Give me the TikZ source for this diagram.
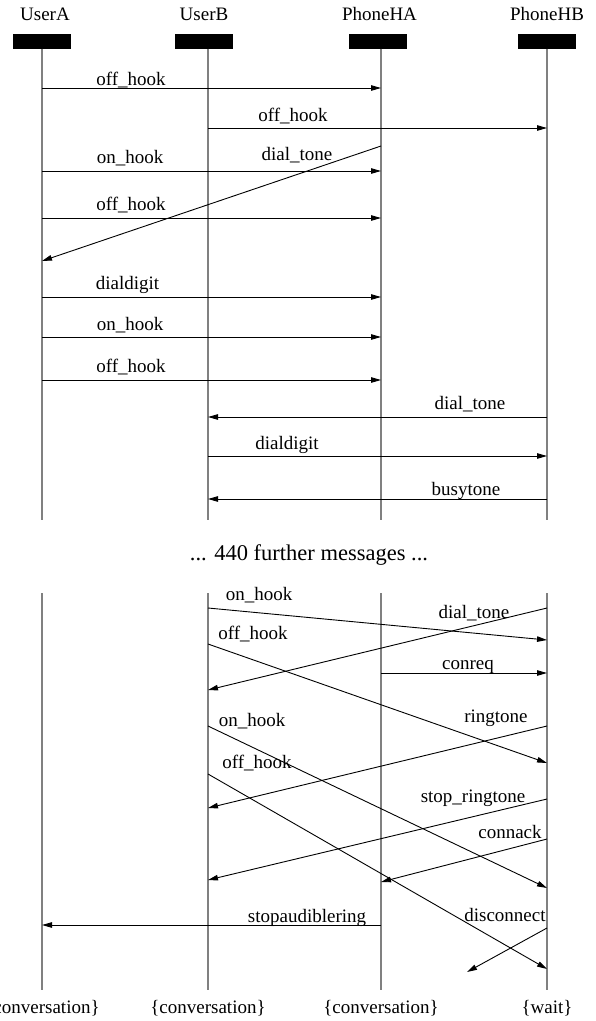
\documentclass[tikz,border=0pt]{standalone}
\usepackage{fontspec}
\setmainfont{Liberation Serif}
\usetikzlibrary{arrows.meta}
\begin{document}
\begin{tikzpicture}[x=1pt,y=-1pt,
  lbl/.style={anchor=base, inner sep=0pt, font=\fontsize{19}{22}\selectfont},
  hdr/.style={anchor=base, inner sep=0pt, font=\fontsize{19}{22}\selectfont},
  msg/.style={draw=black, line width=0.9pt, -{Triangle[length=10pt,width=5.5pt]}},
  life/.style={draw=black!50, line width=1.4pt},
  headbox/.style={fill=black, minimum width=58pt, minimum height=15pt, inner sep=0pt}]
\useasboundingbox (0,0) rectangle (595,1021);

% ---------- instances ----------
\node[headbox] (boxA)  at (42,41)    {};
\node[headbox] (boxB)  at (204,41)   {};
\node[headbox] (boxHA) at (377.5,41) {};
\node[headbox] (boxHB) at (547,41)   {};
\node[hdr] (nameA)  at (45,20.5)    {UserA};
\node[hdr] (nameB)  at (204,20.5)   {UserB};
\node[hdr] (nameHA) at (379.5,20.5) {PhoneHA};
\node[hdr] (nameHB) at (547,20.5)   {PhoneHB};

% lifelines, upper part
\coordinate (topA1)  at (42,48.5);
\coordinate (topB1)  at (208,48.5);
\coordinate (topHA1) at (381,48.5);
\coordinate (topHB1) at (547,48.5);
\coordinate (endA1)  at (42,520);
\coordinate (endB1)  at (208,520);
\coordinate (endHA1) at (381,520);
\coordinate (endHB1) at (547,520);
\draw[life] (topA1)  -- (endA1);
\draw[life] (topB1)  -- (endB1);
\draw[life] (topHA1) -- (endHA1);
\draw[life] (topHB1) -- (endHB1);

% lifelines, lower part
\coordinate (topA2)  at (42,593);
\coordinate (topB2)  at (208,593);
\coordinate (topHA2) at (381,593);
\coordinate (topHB2) at (547,593);
\coordinate (endA2)  at (42,990);
\coordinate (endB2)  at (208,990);
\coordinate (endHA2) at (381,990);
\coordinate (endHB2) at (547,990);
\draw[life] (topA2)  -- (endA2);
\draw[life] (topB2)  -- (endB2);
\draw[life] (topHA2) -- (endHA2);
\draw[life] (topHB2) -- (endHB2);

% ---------- upper messages ----------
\coordinate (u1s) at (42,88);    \coordinate (u1e) at (381,88);
\draw[msg] (u1s) -- (u1e);
\node[lbl] (ul1) at (131,85) {off\_hook};

\coordinate (u2s) at (208,128);  \coordinate (u2e) at (547,128);
\draw[msg] (u2s) -- (u2e);
\node[lbl] (ul2) at (293,121) {off\_hook};

\coordinate (u3s) at (381,146);  \coordinate (u3e) at (42,261);
\draw[msg] (u3s) -- (u3e);
\node[lbl] (ul3) at (297,160) {dial\_tone};

\coordinate (u4s) at (42,171);   \coordinate (u4e) at (381,171);
\draw[msg] (u4s) -- (u4e);
\node[lbl] (ul4) at (130,163) {on\_hook};

\coordinate (u5s) at (42,218);   \coordinate (u5e) at (381,218);
\draw[msg] (u5s) -- (u5e);
\node[lbl] (ul5) at (131,210) {off\_hook};

\coordinate (u6s) at (42,297);   \coordinate (u6e) at (381,297);
\draw[msg] (u6s) -- (u6e);
\node[lbl] (ul6) at (127.5,289) {dialdigit};

\coordinate (u7s) at (42,337);   \coordinate (u7e) at (381,337);
\draw[msg] (u7s) -- (u7e);
\node[lbl] (ul7) at (130,330) {on\_hook};

\coordinate (u8s) at (42,380);   \coordinate (u8e) at (381,380);
\draw[msg] (u8s) -- (u8e);
\node[lbl] (ul8) at (131,372) {off\_hook};

\coordinate (u9s) at (547,417);  \coordinate (u9e) at (208,417);
\draw[msg] (u9s) -- (u9e);
\node[lbl] (ul9) at (470,409) {dial\_tone};

\coordinate (u10s) at (208,456); \coordinate (u10e) at (547,456);
\draw[msg] (u10s) -- (u10e);
\node[lbl] (ul10) at (287,449) {dialdigit};

\coordinate (u11s) at (547,499); \coordinate (u11e) at (208,499);
\draw[msg] (u11s) -- (u11e);
\node[lbl] (ul11) at (466,495) {busytone};

% gap text
\node[anchor=base, inner sep=0pt, font=\fontsize{22.5}{26}\selectfont] (gap) at (309,560.5) {... 440 further messages ...};

% ---------- lower messages ----------
\coordinate (d1s) at (208,608);  \coordinate (d1e) at (547,640);
\draw[msg] (d1s) -- (d1e);
\node[lbl] (dl1) at (259,600) {on\_hook};

\coordinate (d2s) at (547,608);  \coordinate (d2e) at (208,690);
\draw[msg] (d2s) -- (d2e);
\node[lbl] (dl2) at (474,618) {dial\_tone};

\coordinate (d3s) at (208,644);  \coordinate (d3e) at (547,763);
\draw[msg] (d3s) -- (d3e);
\node[lbl] (dl3) at (253,639) {off\_hook};

\coordinate (d4s) at (381,673);  \coordinate (d4e) at (547,673);
\draw[msg] (d4s) -- (d4e);
\node[lbl] (dl4) at (468,669) {conreq};

\coordinate (d5s) at (547,726);  \coordinate (d5e) at (208,808);
\draw[msg] (d5s) -- (d5e);
\node[lbl] (dl5) at (496,722.5) {ringtone};

\coordinate (d6s) at (208,726);  \coordinate (d6e) at (547,888);
\draw[msg] (d6s) -- (d6e);
\node[lbl] (dl6) at (252,726.5) {on\_hook};

\coordinate (d7s) at (208,774);  \coordinate (d7e) at (547,969);
\draw[msg] (d7s) -- (d7e);
\node[lbl] (dl7) at (257,768) {off\_hook};

\coordinate (d8s) at (547,799);  \coordinate (d8e) at (208,880);
\draw[msg] (d8s) -- (d8e);
\node[lbl] (dl8) at (473,802.5) {stop\_ringtone};

\coordinate (d9s) at (547,839);  \coordinate (d9e) at (381,882);
\draw[msg] (d9s) -- (d9e);
\node[lbl] (dl9) at (510,838) {connack};

\coordinate (d10s) at (381,925); \coordinate (d10e) at (42,925);
\draw[msg] (d10s) -- (d10e);
\node[lbl] (dl10) at (307,922) {stopaudiblering};

\coordinate (d11s) at (547,928); \coordinate (d11e) at (467,972);
\draw[msg] (d11s) -- (d11e);
\node[lbl] (dl11) at (505,921) {disconnect};

% ---------- final states ----------
\node[hdr] (stA)  at (42,1013)  {\{conversation\}};
\node[hdr] (stB)  at (208,1013) {\{conversation\}};
\node[hdr] (stHA) at (381,1013) {\{conversation\}};
\node[hdr] (stHB) at (547,1013) {\{wait\}};
\end{tikzpicture}
\end{document}
